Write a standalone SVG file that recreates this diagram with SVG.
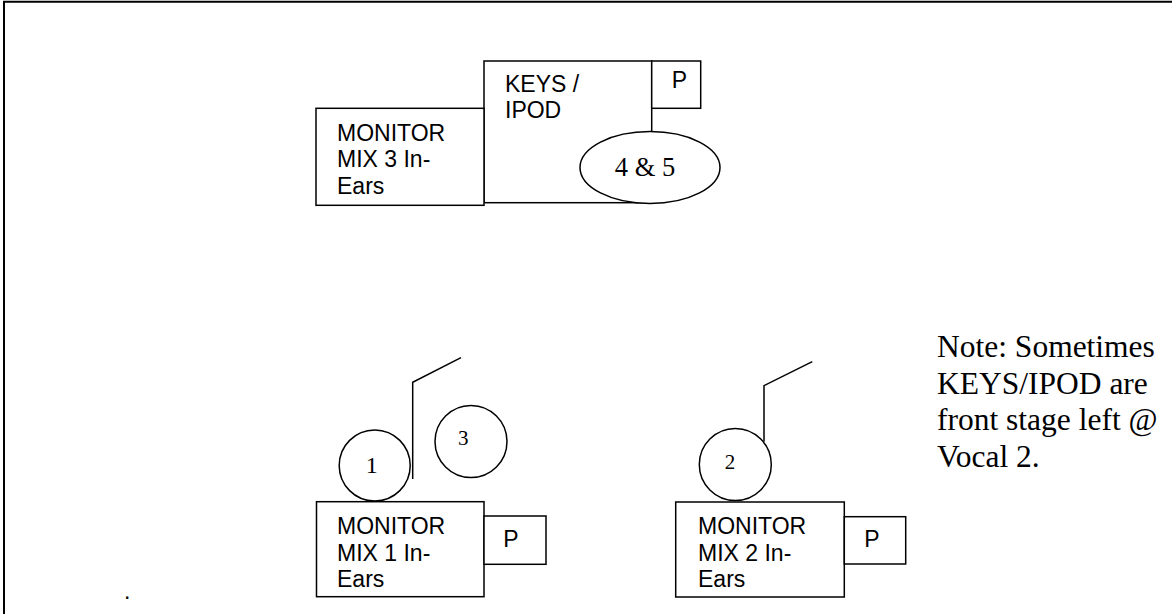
<svg xmlns="http://www.w3.org/2000/svg" width="1172" height="614" viewBox="0 0 1172 614">
<style>
.box{fill:#fff;stroke:#000;stroke-width:1.5}
.ln{fill:none;stroke:#000;stroke-width:1.5}
.sans{font-family:"Liberation Sans",Arial,sans-serif;font-size:23px;fill:#000}
.serif{font-family:"Liberation Serif","Times New Roman",serif;fill:#000}
.note{font-size:31.5px}
</style>
<rect width="1172" height="614" fill="#fff"/>
<g id="frame">
<line x1="3" y1="1.8" x2="1172" y2="1.8" stroke="#000" stroke-width="2"/>
<line x1="4" y1="1" x2="4" y2="614" stroke="#000" stroke-width="2"/>
</g>
<g id="connectors">
<polyline class="ln" points="412.7,479 412.7,382.3 461,357.7"/>
<polyline class="ln" points="764,441.7 764,385.7 812.3,361.7"/>
</g>
<g id="keys">
<rect class="box" x="484" y="61" width="167.7" height="141.7"/>
<text class="sans" x="505" y="91.7">KEYS /</text>
<text class="sans" x="505" y="118.3">IPOD</text>
</g>
<g id="keys-p">
<rect class="box" x="651.7" y="61" width="49" height="47.3"/>
<text class="sans" x="679.5" y="88.3" text-anchor="middle">P</text>
</g>
<g id="mix3">
<rect class="box" x="316" y="108.3" width="168" height="97"/>
<text class="sans" x="337" y="140.5">MONITOR</text>
<text class="sans" x="337" y="167.2">MIX 3 In-</text>
<text class="sans" x="337" y="193.9">Ears</text>
</g>
<g id="vox45">
<ellipse class="box" cx="650" cy="167.5" rx="70" ry="36"/>
<text class="serif" x="645" y="175.5" font-size="26.5" text-anchor="middle">4 &amp; 5</text>
</g>
<g id="vox1">
<circle class="box" cx="374.7" cy="465.5" r="35.5"/>
<text class="serif" x="371.7" y="473" font-size="24" text-anchor="middle">1</text>
</g>
<g id="vox3">
<circle class="box" cx="471" cy="441.5" r="36"/>
<text class="serif" x="463.3" y="444.5" font-size="21" text-anchor="middle">3</text>
</g>
<g id="vox2">
<circle class="box" cx="735.3" cy="464.5" r="36"/>
<text class="serif" x="730" y="468.5" font-size="21" text-anchor="middle">2</text>
</g>
<g id="mix1">
<rect class="box" x="316.5" y="501.7" width="167.5" height="95"/>
<text class="sans" x="337" y="534">MONITOR</text>
<text class="sans" x="337" y="560.7">MIX 1 In-</text>
<text class="sans" x="337" y="587.4">Ears</text>
</g>
<g id="mix1-p">
<rect class="box" x="484" y="516" width="62" height="48.3"/>
<text class="sans" x="511" y="546.7" text-anchor="middle">P</text>
</g>
<g id="mix2">
<rect class="box" x="675.7" y="502" width="168.6" height="95"/>
<text class="sans" x="698" y="534">MONITOR</text>
<text class="sans" x="698" y="560.7">MIX 2 In-</text>
<text class="sans" x="698" y="587.4">Ears</text>
</g>
<g id="mix2-p">
<rect class="box" x="844.3" y="516.7" width="61.4" height="47.3"/>
<text class="sans" x="872" y="547" text-anchor="middle">P</text>
</g>
<g id="note">
<text class="serif note" x="937" y="357.3">Note: Sometimes</text>
<text class="serif note" x="937" y="393.8">KEYS/IPOD are</text>
<text class="serif note" x="937" y="430.3">front stage left @</text>
<text class="serif note" x="937" y="466.8">Vocal 2.</text>
</g>
<text class="sans" x="124" y="599" font-size="12">.</text>
</svg>
